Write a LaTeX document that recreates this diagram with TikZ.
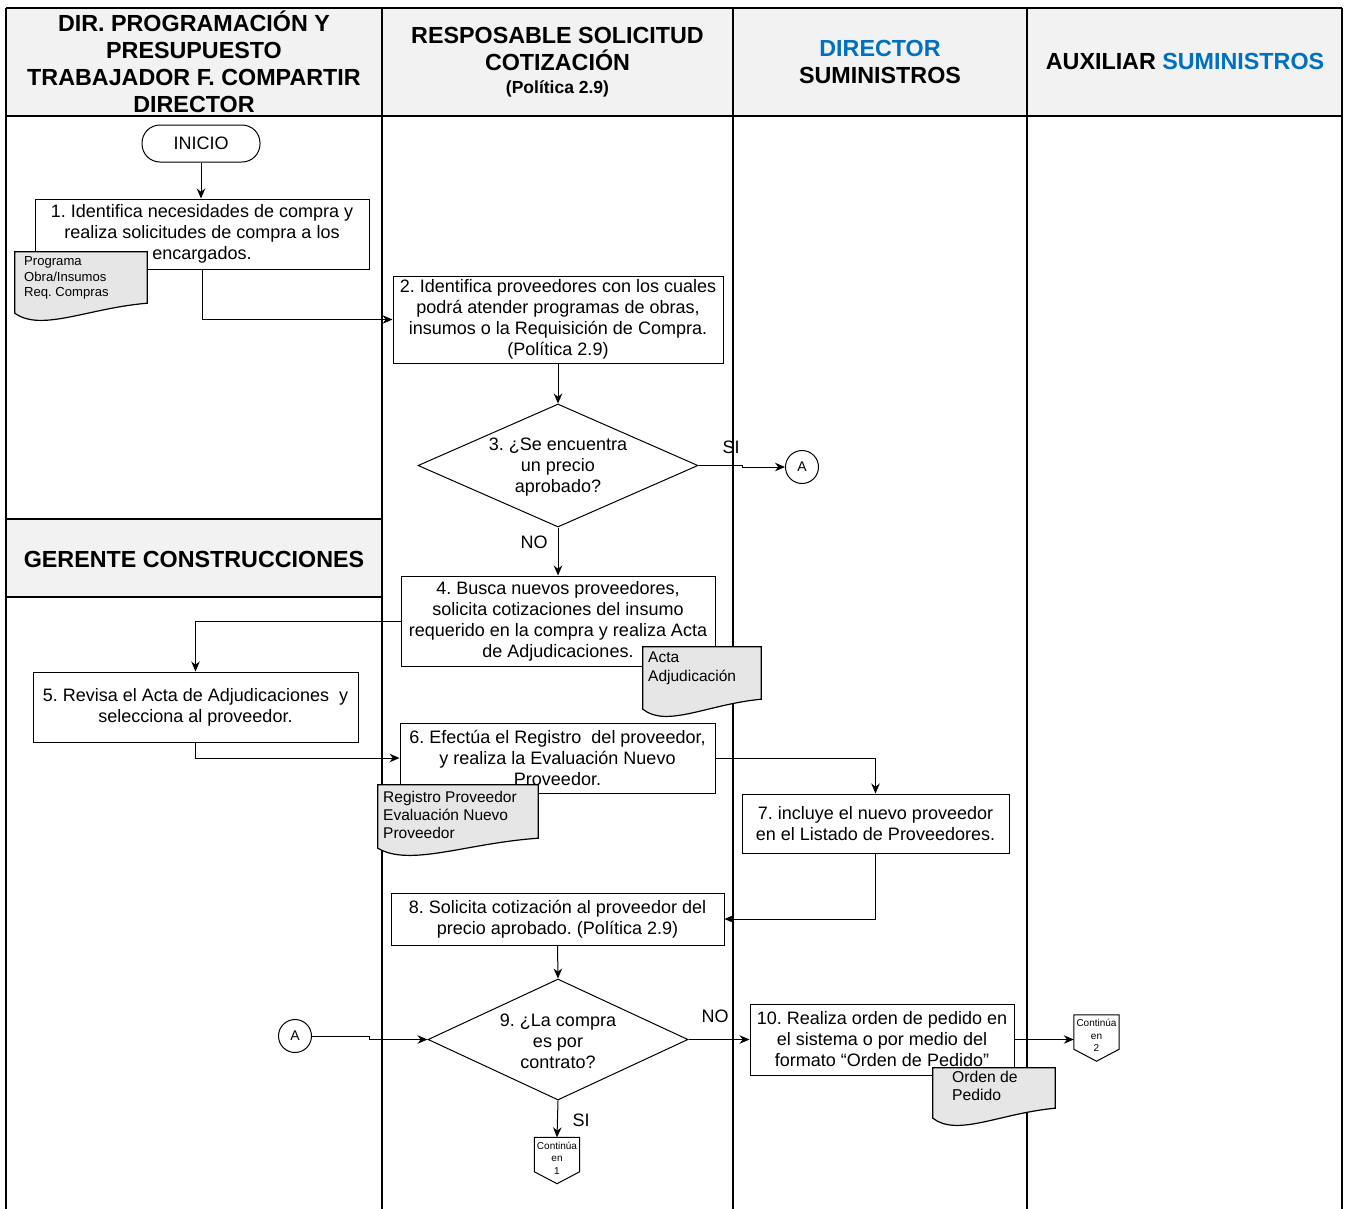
\documentclass[tikz,border=0pt]{standalone}
\usepackage{fontspec}
\setmainfont{Liberation Sans}
\usetikzlibrary{shapes.geometric,arrows.meta,calc}
\definecolor{hdr}{HTML}{F2F2F2}
\definecolor{docg}{HTML}{E6E6E6}
\definecolor{blu}{HTML}{0070C0}
\frenchspacing
\newcommand\wavedoc[1]{%
  \filldraw[docline] (#1.north west) -- (#1.north east) -- ([yshift=17pt]#1.south east)
    .. controls ($(#1.south west)!0.55!(#1.south east)+(0pt,12pt)$) and ($(#1.south west)!0.2!(#1.south east)+(0pt,-12pt)$) ..
    ([yshift=7pt]#1.south west) -- cycle;}
\newcommand\offpage[1]{%
  \draw[line width=1pt, fill=white] (#1.north west) -- (#1.north east) -- ([yshift=12pt]#1.south east)
    -- (#1.south) -- ([yshift=12pt]#1.south west) -- cycle;}
\begin{document}
\begin{tikzpicture}[x=1pt,y=-1pt,
  lane/.style={line width=2.2pt},
  proc/.style={draw, line width=1pt, fill=white, align=center, inner sep=2pt, font=\fontsize{18}{21}\selectfont},
  dec/.style={draw, diamond, line width=1pt, inner sep=0pt, fill=white},
  dtext/.style={align=center, inner sep=0pt, font=\fontsize{18}{21}\selectfont},
  lbl/.style={font=\fontsize{18}{20}\selectfont, inner sep=0pt},
  conn/.style={line width=1pt, -{Stealth[length=10pt,width=8.5pt]}},
  hd/.style={font=\bfseries\fontsize{23.3}{27}\selectfont, align=center, inner sep=0pt},
  docline/.style={line width=1.2pt, fill=docg},
  docbox/.style={inner sep=0pt},
  doctext/.style={anchor=north west, align=left, inner sep=0pt},
  conA/.style={circle, draw, line width=1pt, minimum size=33, inner sep=0pt, fill=white, font=\fontsize{14}{16}\selectfont},
  opg/.style={inner sep=0pt, minimum width=45, minimum height=46},
  optext/.style={align=center, inner sep=0pt, font=\fontsize{10}{12.5}\selectfont}
]
\useasboundingbox (0,0) rectangle (1348,1208);
% headers and lanes
\fill[hdr] (6,8) rectangle (1342,116);
\fill[hdr] (6,519) rectangle (382,597);
\draw[lane] (6,8) -- (1342,8);
\draw[lane] (6,116) -- (1342,116);
\draw[lane] (6,519) -- (382,519);
\draw[lane] (6,597) -- (382,597);
\draw[lane] (6,8) -- (6,1210);
\draw[lane] (382,8) -- (382,1210);
\draw[lane] (733,8) -- (733,1210);
\draw[lane] (1027,8) -- (1027,1210);
\draw[lane] (1342,8) -- (1342,1210);

\node[hd] (h1) at (194,62) {DIR. PROGRAMACIÓN Y\\PRESUPUESTO\\TRABAJADOR F. COMPARTIR\\DIRECTOR};
\node[hd] (h2) at (557.5,62) {RESPOSABLE SOLICITUD\\COTIZACIÓN\\[-4pt]\fontsize{17.5}{20}\selectfont(Política 2.9)};
\node[hd] (h3) at (880,62) {\textcolor{blu}{DIRECTOR}\\SUMINISTROS};
\node[hd] (h4) at (1185,61) {AUXILIAR \textcolor{blu}{SUMINISTROS}};
\node[hd] (h5) at (194,559) {GERENTE CONSTRUCCIONES};

% nodes
\node[draw, rounded corners=18pt, minimum width=118, minimum height=37, line width=1pt, font=\fontsize{18}{20}\selectfont] (ini) at (201,143.5) {INICIO};
\node[proc, minimum width=334, minimum height=70] (b1) at (202,234) {1. Identifica necesidades de compra y\\realiza solicitudes de compra a los\\encargados.};
\node[proc, minimum width=330, minimum height=87] (b2) at (558,319.5) {2. Identifica proveedores con los cuales\\podrá atender programas de obras,\\insumos o la Requisición de Compra.\\(Política 2.9)};
\node[dec, minimum width=280, minimum height=123] (d3) at (558,465.5) {};
\node[dtext] (d3t) at (558,467) {3. ¿Se encuentra\\un precio\\aprobado?};
\node[conA] (ca1) at (802,467) {A};
\node[proc, minimum width=314, minimum height=90] (b4) at (558,621) {4. Busca nuevos proveedores,\\solicita cotizaciones del insumo\\requerido en la compra y realiza Acta\\de Adjudicaciones.};
\node[proc, minimum width=325, minimum height=70] (b5) at (195.5,707) {5. Revisa el Acta de Adjudicaciones\ \ y\\selecciona al proveedor.};
\node[proc, minimum width=315, minimum height=70] (b6) at (557.5,758) {6. Efectúa el Registro\ \ del proveedor,\\y realiza la Evaluación Nuevo\\Proveedor.};
\node[proc, minimum width=267, minimum height=59] (b7) at (875.5,823.5) {7. incluye el nuevo proveedor\\en el Listado de Proveedores.};
\node[proc, minimum width=333, minimum height=52] (b8) at (557.5,919) {8. Solicita cotización al proveedor del\\precio aprobado. (Política 2.9)};
\node[dec, minimum width=260, minimum height=121] (d9) at (558,1039.5) {};
\node[dtext] (d9t) at (558,1041) {9. ¿La compra\\es por\\contrato?};
\node[conA] (ca2) at (295,1036) {A};
\node[proc, minimum width=264, minimum height=71] (b10) at (882,1039.5) {10. Realiza orden de pedido en\\el sistema o por medio del\\formato “Orden de Pedido”};

% off-page connectors
\node[opg] (op1) at (557,1160.5) {};
\offpage{op1}
\node[optext] (op1t) at (557,1158) {Continúa\\en\\1};
\node[opg] (op2) at (1096.5,1038) {};
\offpage{op2}
\node[optext] (op2t) at (1096.5,1035.5) {Continúa\\en\\2};

% documents
\node[docbox, minimum width=132, minimum height=68] (doc1) at (81,286) {};
\wavedoc{doc1}
\node[doctext, font=\fontsize{13.1}{15.5}\selectfont] (doc1t) at (24,256.5) {Programa\\Obra/Insumos\\Req. Compras};
\node[docbox, minimum width=118, minimum height=69] (doc2) at (702,681.5) {};
\wavedoc{doc2}
\node[doctext, font=\fontsize{15.5}{19}\selectfont] (doc2t) at (648,651.5) {Acta\\Adjudicación};
\node[docbox, minimum width=160, minimum height=70] (doc3) at (458,820) {};
\wavedoc{doc3}
\node[doctext, font=\fontsize{15.5}{18}\selectfont] (doc3t) at (383,791.5) {Registro Proveedor\\Evaluación Nuevo\\Proveedor};
\node[docbox, minimum width=122, minimum height=57] (doc4) at (994,1096.5) {};
\wavedoc{doc4}
\node[doctext, font=\fontsize{15.7}{18}\selectfont] (doc4t) at (952,1070.5) {Orden de\\Pedido};

% connectors
\draw[conn] (ini.south) -- (ini.south |- b1.north);
\draw[conn] (b1.south) |- (b2.west);
\draw[conn] (b2.south) -- (d3.north);
\draw[conn] (d3.east) -- ++(44,0) |- (ca1.west);
\node[lbl] (si1) at (731,447) {SI};
\draw[conn] (d3.south) -- (b4.north);
\node[lbl] (no1) at (534,542) {NO};
\draw[conn] (b4.west) -| (b5.north);
\draw[conn] (b5.south) |- (b6.west);
\draw[conn] (b6.east) -| (b7.north);
\draw[conn] (b7.south) |- (b8.east);
\draw[conn] (b8.south) -- (d9.north);
\draw[conn] (ca2.east) -- ++(57,0) |- (d9.west);
\draw[conn] (d9.east) -- (b10.west);
\node[lbl] (no2) at (715,1016) {NO};
\draw[conn] (d9.south) -- (op1.north);
\node[lbl] (si2) at (581,1120) {SI};
\draw[conn] (b10.east) -- (b10.east -| op2.west);
\end{tikzpicture}
\end{document}
